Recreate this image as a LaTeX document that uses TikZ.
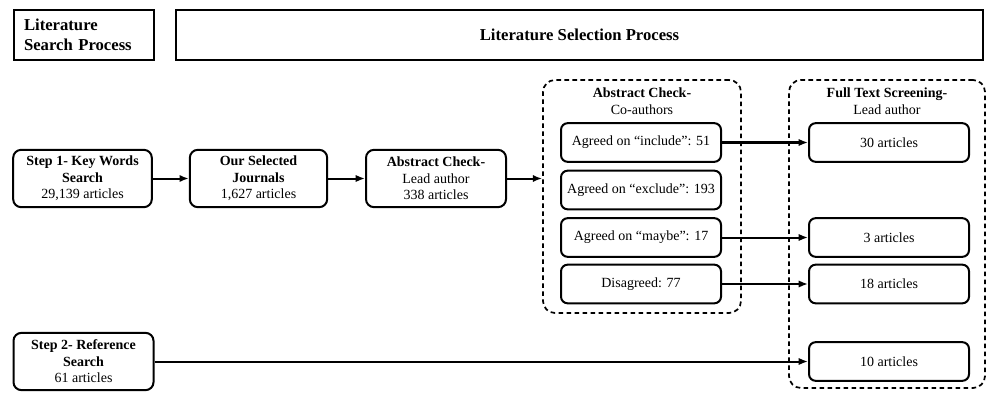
\documentclass[tikz,border=0pt]{standalone}
\usepackage{fontspec}
\setmainfont{Liberation Serif}
\usetikzlibrary{arrows.meta,positioning}

\begin{document}
\begin{tikzpicture}[x=0.75pt,y=-0.75pt,
  every node/.style={font=\fontsize{10.5}{12.4}\selectfont},
  headnode/.style={draw,line width=1.1pt,minimum height=37.5pt,inner sep=0pt,
    font=\fontsize{12.5}{15}\selectfont\bfseries},
  stepnode/.style={draw,rounded corners=6pt,line width=1.5pt,minimum width=104pt,
    minimum height=43pt,align=center,inner sep=1pt},
  subnode/.style={draw,rounded corners=5pt,line width=1.5pt,minimum width=120pt,
    minimum height=29pt,inner sep=1pt},
  groupnode/.style={draw,dash pattern=on 3.5pt off 2.5pt,rounded corners=9pt,
    line width=1.3pt,inner sep=0pt},
  flow/.style={-{Latex[length=7pt,width=5.5pt]},line width=1.5pt},
]
\useasboundingbox (0,0) rectangle (987,392);

% the headers
\node[headnode,minimum width=105pt,text width=90pt,align=left,inner xsep=7.5pt]
  (hsearch) at (84,35) {Literature\\Search Process};
\node[headnode,minimum width=605pt] (hselect) at (579.5,35) {Literature Selection Process};

% the main chain
\node[stepnode,minimum width=104pt] (step1) at (82.5,178.5)
  {\textbf{Step 1- Key Words}\\\textbf{Search}\\29,139 articles};
\node[stepnode,minimum width=103pt] (journ) at (258.5,178.5)
  {\textbf{Our Selected}\\\textbf{Journals}\\1,627 articles};
\node[stepnode,minimum width=105pt] (abst) at (436,178.5)
  {\textbf{Abstract Check-}\\Lead author\\338 articles};
\node[stepnode,minimum width=105pt] (step2) at (83.5,361.5)
  {\textbf{Step 2- Reference}\\\textbf{Search}\\61 articles};

% the co-author check
\node[groupnode,minimum width=148.5pt,minimum height=174.75pt] (cogrp) at (642,196.5) {};
\node[align=center] (cotitle) at (642,101) {\textbf{Abstract Check-}\\Co-authors};
\foreach \y/\t [count=\i] in {142.5/Agreed on ``include'': 51,190/Agreed on ``exclude'': 193,
    237.5/Agreed on ``maybe'': 17,284/Disagreed: 77}
  \node[subnode] (a\i) at (641,\y) {\t};

% the full text screening
\node[groupnode,minimum width=147pt,minimum height=231pt] (ftgrp) at (887,234) {};
\node[align=center] (fttitle) at (887,101) {\textbf{Full Text Screening-}\\Lead author};
\foreach \y/\n [count=\i] in {142.5/30,237.5/3,284/18,361.5/10}
  \node[subnode] (f\i) at (889,\y) {\n{} articles};

% arrows
\draw[flow] (step1) -- (journ);
\draw[flow] (journ) -- (abst);
\draw[flow] (abst.east) -- (abst.east -| cogrp.west);
\draw[flow] (a1.east) -- (a1.east -| f1.west);
\draw[flow] (a3.east) -- (a3.east -| f2.west);
\draw[flow] (a4.east) -- (a4.east -| f3.west);
\draw[flow] (step2.east) -- (step2.east -| f4.west);
\end{tikzpicture}
\end{document}
